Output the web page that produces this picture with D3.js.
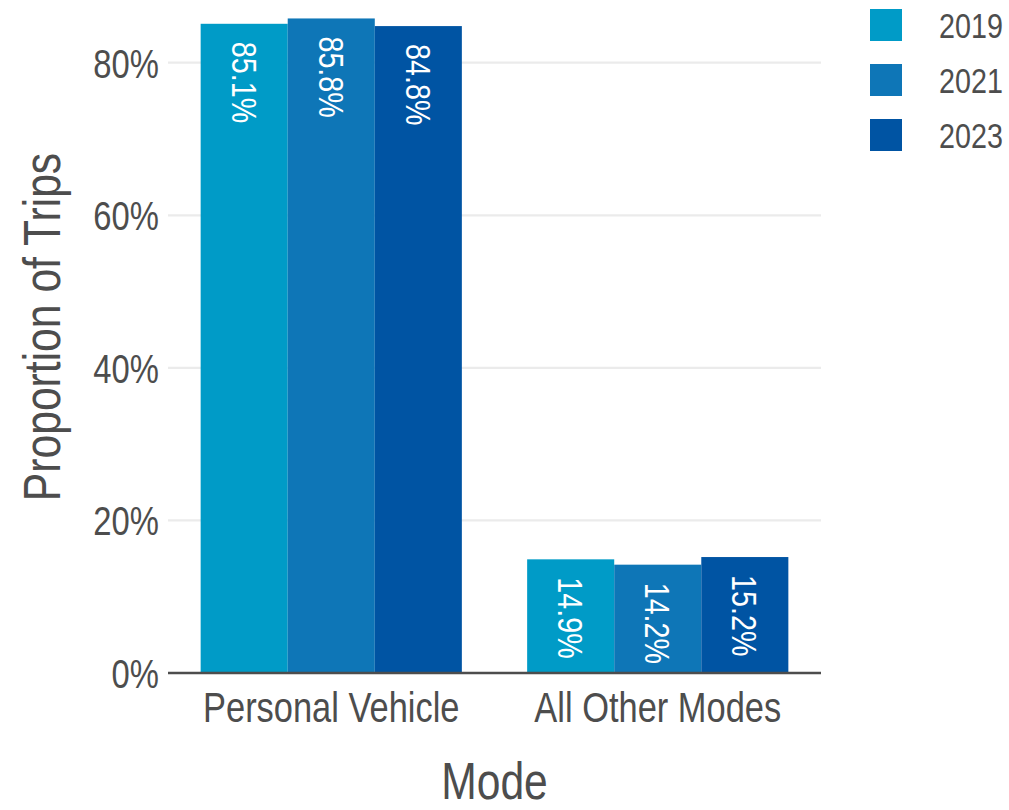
<!DOCTYPE html>
<html>
<head>
<meta charset="utf-8">
<script src="https://cdn.jsdelivr.net/npm/d3@7/dist/d3.min.js"></script>
<style>
  html, body { margin: 0; padding: 0; background: #ffffff; }
  svg { display: block; }
  text { font-family: "Liberation Sans", Arial, Helvetica, sans-serif; }
</style>
</head>
<body>
<svg id="chart" width="1009" height="810"></svg>
<script>
// ---- data ----
const categories = ["Personal Vehicle", "All Other Modes"];
const years = ["2019", "2021", "2023"];
const values2019 = [0.851, 0.149];
const values2021 = [0.858, 0.142];
const values2023 = [0.848, 0.152];
const yTicks = [0, 0.2, 0.4, 0.6, 0.8];
const yTitle = "Proportion of Trips";
const xTitle = "Mode";
const colors = ["#009bc7", "#0e76b7", "#0054a3"];

const seriesValues = { "2019": values2019, "2021": values2021, "2023": values2023 };
const rows = [];
categories.forEach((c, i) => {
  years.forEach(y => rows.push({ category: c, year: y, value: seriesValues[y][i] }));
});

// ---- layout ----
const NARROW = 0.82;          // condensed text width factor
const textGray = "#4d4d4d";
const plotLeft = 168, plotRight = 821;

const svg = d3.select("#chart");

const x0 = d3.scaleBand().domain(categories).range([plotLeft, plotRight]).padding(0);
const x1 = d3.scaleBand().domain(years).range([0, x0.bandwidth() * 0.8]);
const y = d3.scaleLinear().domain([0, 0.8]).range([673, 62.7]);
const color = d3.scaleOrdinal().domain(years).range(colors);

// gridlines (not at 0)
svg.append("g").selectAll("line")
  .data(yTicks.filter(t => t > 0))
  .join("line")
  .attr("x1", plotLeft).attr("x2", plotRight)
  .attr("y1", d => y(d)).attr("y2", d => y(d))
  .attr("stroke", "#ebebeb").attr("stroke-width", 2.2);

// y axis tick labels via d3 axis
const yAxis = d3.axisLeft(y).tickValues(yTicks).tickFormat(d3.format(".0%")).tickSize(0).tickPadding(0);
const yg = svg.append("g").attr("transform", `translate(${plotLeft - 9},0)`).call(yAxis);
yg.select(".domain").remove();
yg.selectAll(".tick text")
  .attr("x", 0).attr("dy", null).attr("y", null)
  .attr("fill", textGray)
  .attr("font-size", 40)
  .attr("font-family", '"Liberation Sans", Arial, sans-serif')
  .attr("text-anchor", "end")
  .attr("transform", `translate(0,${0.36 * 40}) scale(${NARROW},1)`);

// bars
const groups = svg.append("g").selectAll("g")
  .data(categories)
  .join("g")
  .attr("transform", c => `translate(${x0(c) + x0.bandwidth() * 0.1},0)`);

groups.selectAll("rect")
  .data(c => rows.filter(r => r.category === c))
  .join("rect")
  .attr("x", d => x1(d.year))
  .attr("width", x1.bandwidth())
  .attr("y", d => y(d.value))
  .attr("height", d => y(0) - y(d.value))
  .attr("fill", d => color(d.year));

// bar labels (rotated, reading downward)
const labelSize = 35;
groups.selectAll("text.barlabel")
  .data(c => rows.filter(r => r.category === c))
  .join("text")
  .attr("class", "barlabel")
  .attr("fill", "#ffffff")
  .attr("font-size", labelSize)
  .attr("dy", "0.36em")
  .attr("text-anchor", "start")
  .attr("transform", d => `translate(${x1(d.year) + x1.bandwidth() / 2},${y(d.value) + 18}) rotate(90) scale(${NARROW},1)`)
  .text(d => d3.format(".1%")(d.value));

// baseline
svg.append("line")
  .attr("x1", plotLeft).attr("x2", plotRight)
  .attr("y1", y(0)).attr("y2", y(0))
  .attr("stroke", "#4d4d4d").attr("stroke-width", 2.6);

// x axis labels via d3 axis
const xAxis = d3.axisBottom(x0).tickSize(0).tickPadding(0);
const xg = svg.append("g").attr("transform", `translate(0,722)`).call(xAxis);
xg.select(".domain").remove();
xg.selectAll(".tick text")
  .attr("y", 0).attr("dy", null)
  .attr("fill", textGray)
  .attr("font-size", 42)
  .attr("font-family", '"Liberation Sans", Arial, sans-serif')
  .attr("text-anchor", "middle")
  .attr("transform", `scale(${NARROW},1)`);

// axis titles
svg.append("text")
  .attr("fill", textGray)
  .attr("font-size", 52)
  .attr("text-anchor", "middle")
  .attr("transform", `translate(${(plotLeft + plotRight) / 2},799) scale(${NARROW},1)`)
  .text(xTitle);

svg.append("text")
  .attr("fill", textGray)
  .attr("font-size", 52)
  .attr("text-anchor", "middle")
  .attr("transform", `translate(60,327) rotate(-90) scale(${NARROW},1)`)
  .text(yTitle);

// legend
const legend = svg.append("g").selectAll("g")
  .data(years)
  .join("g")
  .attr("transform", (d, i) => `translate(870,${9 + i * 55})`);
legend.append("rect")
  .attr("width", 32).attr("height", 32)
  .attr("fill", d => color(d));
legend.append("text")
  .attr("fill", textGray)
  .attr("font-size", 35)
  .attr("transform", `translate(69,${16 + 0.36 * 35}) scale(${NARROW},1)`)
  .text(d => d);
</script>
</body>
</html>
